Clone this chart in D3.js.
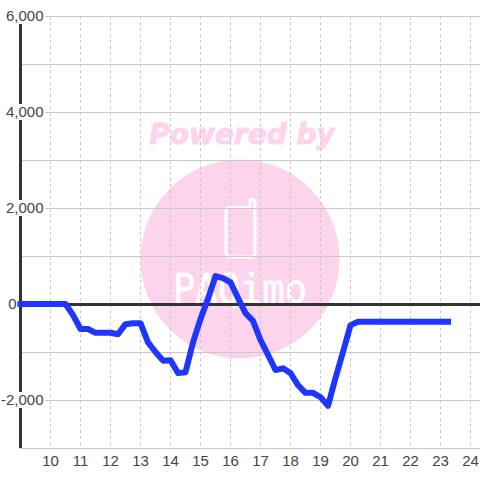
<!DOCTYPE html>
<html>
<head>
<meta charset="utf-8">
<script src="https://cdn.jsdelivr.net/npm/d3@7"></script>
<style>
  html, body { margin: 0; padding: 0; background: #fff; }
  svg { display: block; }
  text { font-family: "Liberation Sans", sans-serif; }
</style>
</head>
<body>
<figure style="margin:0"></figure>
<script>
const hours = [9, 10.5, 10.75, 11, 11.25, 11.5, 11.75, 12, 12.25, 12.5, 12.75, 13,
  13.25, 13.5, 13.75, 14, 14.25, 14.5, 14.75, 15, 15.25, 15.5, 15.75, 16, 16.25,
  16.5, 16.75, 17, 17.25, 17.5, 17.75, 18, 18.25, 18.5, 18.75, 19, 19.25, 19.5,
  19.75, 20, 20.25, 23.25];
const values = [0, 0, -230, -520, -520, -600, -600, -600, -630, -420, -400, -400,
  -800, -1000, -1180, -1170, -1440, -1420, -800, -310, 110, 580, 540, 450, 125,
  -190, -350, -750, -1060, -1375, -1340, -1440, -1690, -1850, -1850, -1940, -2120,
  -1540, -1000, -440, -370, -370];
const xTicks = [10, 11, 12, 13, 14, 15, 16, 17, 18, 19, 20, 21, 22, 23, 24];
const yMajor = [6000, 4000, 2000, 0, -2000];
const yMinor = [5000, 3000, 1000, -1000, -3000];

const canvas = d3.select("figure").append("svg").attr("width", 480).attr("height", 480);

const x = d3.scaleLinear().domain([9, 24.333]).range([20.5, 480.5]);
const y = d3.scaleLinear().domain([6000, -3000]).range([16, 448]);

// watermark sits under the grid
const mark = canvas.append("g");
mark.append("circle").attr("cx", 240).attr("cy", 259).attr("r", 99.5).attr("fill", "#fcd5ec");
mark.append("text").attr("x", 242).attr("y", 144).attr("text-anchor", "middle")
  .style("font-family", "DejaVu Sans").style("font-size", "28px")
  .style("font-weight", "bold").style("font-style", "italic")
  .attr("fill", "#fcd5ec").attr("stroke", "#fcd5ec").attr("stroke-width", 1).text("Powered by");
mark.append("path")
  .attr("d", "M230 207.5H250V202a2.5 2.5 0 0 1 5 0V253a4 4 0 0 1 -4 4H230a4 4 0 0 1 -4 -4V211.5a4 4 0 0 1 4 -4Z")
  .attr("fill", "none").attr("stroke", "#fff").attr("stroke-width", 3);
mark.append("text").attr("x", 240).attr("y", 303).attr("text-anchor", "middle")
  .style("font-family", "DejaVu Sans Mono").style("font-size", "40px")
  .attr("textLength", 134).attr("lengthAdjust", "spacingAndGlyphs")
  .attr("fill", "#fff").attr("stroke", "#fff").attr("stroke-width", 0.6).text("PAQimo");

// grid
canvas.append("g").selectAll("line").data(xTicks).join("line")
  .attr("x1", d => x(d)).attr("x2", d => x(d)).attr("y1", 16).attr("y2", 448)
  .attr("stroke", "#c8c8c8").attr("stroke-dasharray", "3,3");
canvas.append("g").selectAll("line").data(yMinor).join("line")
  .attr("x1", 20).attr("x2", 480).attr("y1", d => y(d) + 0.5).attr("y2", d => y(d) + 0.5)
  .attr("stroke", "#c8c8c8");
canvas.append("g").selectAll("line").data(yMajor).join("line")
  .attr("x1", 45).attr("x2", 480).attr("y1", d => y(d) + 0.5).attr("y2", d => y(d) + 0.5)
  .attr("stroke", "#c8c8c8");

// axis bars
canvas.append("line").attr("x1", 20.5).attr("x2", 20.5).attr("y1", 16).attr("y2", 448)
  .attr("stroke", "#333").attr("stroke-width", 3);
canvas.append("line").attr("x1", 20).attr("x2", 480).attr("y1", y(0) + 0.5).attr("y2", y(0) + 0.5)
  .attr("stroke", "#333").attr("stroke-width", 3);

const line = d3.line().x(d => x(d[0])).y(d => y(d[1]));
canvas.append("path").datum(d3.zip(hours, values)).attr("d", line)
  .attr("fill", "none").attr("stroke", "#1f36ff").attr("stroke-width", 6)
  .attr("stroke-linejoin", "round").attr("stroke-linecap", "square");

// labels have a white box that cuts the axis bar, the 0 one sits left of the bar
const yLabels = canvas.append("g").selectAll("g").data(yMajor).join("g")
  .attr("transform", d => `translate(${d === 0 ? 16.5 : 43.5},${y(d)})`);
yLabels.filter(d => d !== 0).append("rect").attr("x", -43).attr("y", -8)
  .attr("width", 43).attr("height", 16).attr("fill", "#fff");
yLabels.append("text").attr("text-anchor", "end").attr("dy", "0.35em")
  .style("font-size", "15px").attr("fill", "#444")
  .text(d => d3.format(",")(d).replace("\u2212", "-"));

canvas.append("g").selectAll("text").data(xTicks).join("text")
  .attr("x", d => x(d)).attr("y", 466).attr("text-anchor", "middle")
  .style("font-size", "15px").attr("fill", "#444").text(d => d);
</script>
</body>
</html>
